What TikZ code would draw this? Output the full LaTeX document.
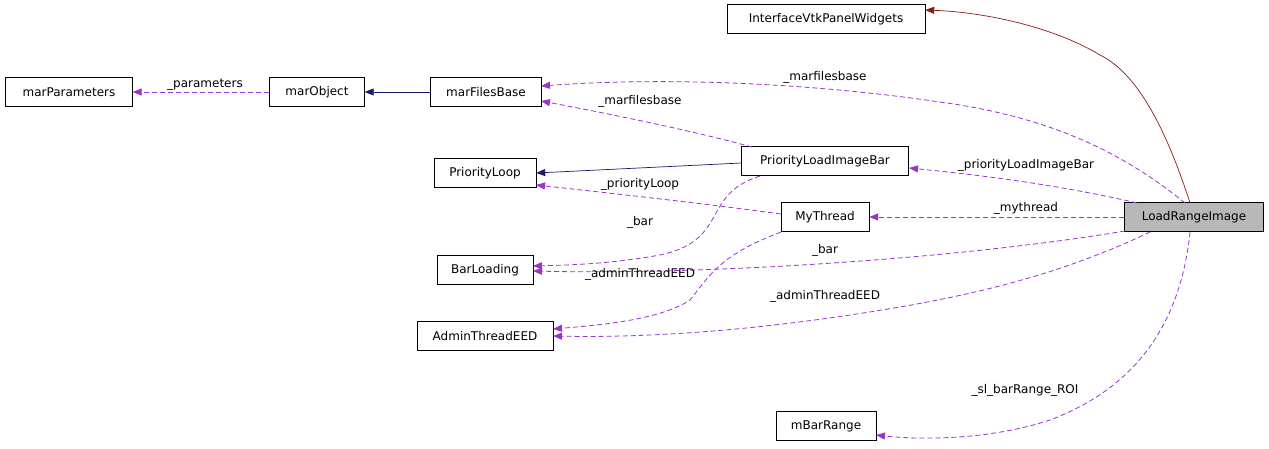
\documentclass[tikz,border=0pt]{standalone}
\usepackage{fontspec}
\setmainfont{DejaVu Sans}
\usetikzlibrary{arrows.meta}
\definecolor{usec}{HTML}{9A32CD}
\definecolor{inhc}{HTML}{191970}
\definecolor{inh2c}{HTML}{8B1A1A}
\begin{document}
\begin{tikzpicture}[x=1pt,y=-1pt,
 box/.style={draw,thin,minimum height=29pt,inner xsep=6pt,font=\fontsize{12}{14}\selectfont},
 lbl/.style={font=\fontsize{12}{14}\selectfont,inner sep=1pt,text=black},
 use/.style={-{Triangle[length=9pt,width=7pt]},dashed,color=usec,dash pattern=on 5pt off 3pt,line width=0.8pt},
 inh/.style={-{Triangle[length=9pt,width=7pt]},color=inhc,line width=0.7pt},
 inh2/.style={-{Triangle[length=9pt,width=7pt]},color=inh2c,line width=0.7pt}]
\useasboundingbox (0,0) rectangle (1269,448);
\node[box,minimum width=198pt] (ivt) at (826,19) {InterfaceVtkPanelWidgets};
\node[box,minimum width=127pt] (mp) at (69,92) {marParameters};
\node[box,minimum width=95pt] (mo) at (317,92) {marObject};
\node[box,minimum width=111pt] (mfb) at (486,92) {marFilesBase};
\node[box,minimum width=102pt] (pl) at (485,173) {PriorityLoop};
\node[box,minimum width=167pt] (plib) at (825,161) {PriorityLoadImageBar};
\node[box,minimum width=88pt] (mt) at (825,217) {MyThread};
\node[box,minimum width=139pt,fill=black!28] (lri) at (1194,217) {LoadRangeImage};
\node[box,minimum width=96pt] (bl) at (485,270) {BarLoading};
\node[box,minimum width=136pt] (ate) at (485,336) {AdminThreadEED};
\node[box,minimum width=100pt] (mbr) at (826,426) {mBarRange};

\draw[inh2] (1190,203) .. controls (1160,110) and (1130,70) .. (1100,55) .. controls (1050,25) and (980,12) .. (ivt.east|-0,10);
\draw[use] (mo.west) -- node[lbl,above,xshift=4pt]{\_parameters} (mp.east);
\draw[inh] (mfb.west) -- (mo.east);
\draw[inh] (plib.west) ++(0,2) -- (pl.east);
\draw[use] (1185,203) .. controls (1120,150) and (1050,120) .. (960,105) .. controls (800,80) and (650,78) .. (541,86);
\node[lbl] (l1) at (825,77) {\_marfilesbase};
\draw[use] (752,147) .. controls (690,130) and (600,112) .. (541,101);
\node[lbl] (l2) at (640,101) {\_marfilesbase};
\draw[use] (1137,203) .. controls (1060,185) and (980,175) .. (909,168);
\node[lbl] (l3) at (1026,165) {\_priorityLoadImageBar};
\draw[use] (781,214) .. controls (700,203) and (600,192) .. (536,185);
\node[lbl] (l4) at (640,184) {\_priorityLoop};
\draw[use] (lri.west) -- (mt.east);
\node[lbl] (l5) at (1026,208) {\_mythread};
\draw[use] (760,176) .. controls (700,195) and (730,240) .. (660,255) .. controls (610,264) and (570,265) .. (533,266);
\node[lbl] (l6) at (640,222) {\_bar};
\draw[use] (1125,231) .. controls (950,260) and (700,275) .. (533,271);
\node[lbl] (l7) at (825,250) {\_bar};
\draw[use] (781,232) .. controls (720,255) and (710,275) .. (690,300) .. controls (660,320) and (600,325) .. (553,329);
\node[lbl] (l8) at (640,274) {\_adminThreadEED};
\draw[use] (1150,232) .. controls (1050,280) and (950,300) .. (850,315) .. controls (750,330) and (650,338) .. (553,336);
\node[lbl] (l9) at (825,296) {\_adminThreadEED};
\draw[use] (1190,232) .. controls (1180,330) and (1130,390) .. (1050,420) .. controls (990,440) and (920,440) .. (876,435);
\node[lbl] (l10) at (1025,390) {\_sl\_barRange\_ROI};
\end{tikzpicture}
\end{document}
